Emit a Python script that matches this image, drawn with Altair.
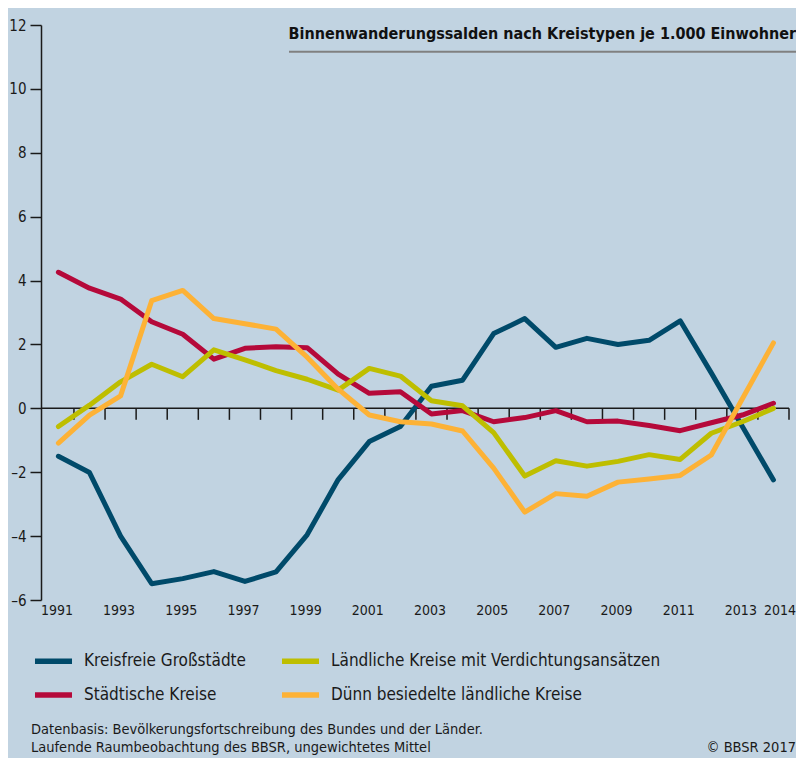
import altair as alt
import pandas as pd

# ---------------- data ----------------
years = list(range(1991, 2015))
series_names = [
    "Kreisfreie Großstädte",
    "Städtische Kreise",
    "Ländliche Kreise mit Verdichtungsansätzen",
    "Dünn besiedelte ländliche Kreise",
]
series_colors = ["#004A6A", "#B5093A", "#BEBE00", "#FDB236"]

kreisfreie = [-1.50, -2.01, -4.00, -5.49, -5.33, -5.11, -5.42, -5.12, -3.96, -2.23,
              -1.04, -0.57, 0.69, 0.88, 2.34, 2.81, 1.91, 2.19, 2.00, 2.13,
              2.74, 1.11, -0.57, -2.24]
staedtische = [4.26, 3.76, 3.42, 2.71, 2.32, 1.54, 1.88, 1.93, 1.90, 1.07,
               0.47, 0.52, -0.18, -0.07, -0.42, -0.29, -0.07, -0.42, -0.40, -0.54,
               -0.70, -0.45, -0.21, 0.16]
laendliche = [-0.57, 0.10, 0.83, 1.38, 0.99, 1.83, 1.52, 1.18, 0.91, 0.57,
              1.25, 1.01, 0.24, 0.08, -0.76, -2.12, -1.64, -1.81, -1.66, -1.45,
              -1.60, -0.78, -0.42, 0.00]
duenn = [-1.09, -0.21, 0.39, 3.37, 3.69, 2.81, 2.65, 2.48, 1.60, 0.60,
         -0.21, -0.42, -0.49, -0.71, -1.87, -3.25, -2.67, -2.75, -2.31, -2.21,
         -2.10, -1.46, 0.30, 2.05]

x_label_years = [1991, 1993, 1995, 1997, 1999, 2001, 2003, 2005, 2007, 2009, 2011, 2013, 2014]
y_tick_values = [-6, -4, -2, 0, 2, 4, 6, 8, 10, 12]

title_text = "Binnenwanderungssalden nach Kreistypen je 1.000 Einwohner"
footer_lines = [
    "Datenbasis: Bevölkerungsfortschreibung des Bundes und der Länder.",
    "Laufende Raumbeobachtung des BBSR, ungewichtetes Mittel",
]
copyright_text = "© BBSR 2017"

# ---------------- tables ----------------
series_values = [kreisfreie, staedtische, laendliche, duenn]
rows = []
for name, vals in zip(series_names, series_values):
    for yr, v in zip(years, vals):
        rows.append({"Jahr": yr, "Wert": v, "Kreistyp": name})
df = pd.DataFrame(rows)

tick_df = pd.DataFrame({"Jahr": [y + 0.5 for y in years], "Wert": 0.0, "Unten": -0.36})
zero_df = pd.DataFrame({"Wert": [0.0]})

# ---------------- styling ----------------
FONT = "DejaVu Sans Condensed, Liberation Sans, sans-serif"
INK = "#1a1a1a"
BG = "#C1D3E1"
W, H = 748, 575

xscale = alt.Scale(domain=[1990.44, 2014.5], nice=False, zero=False)
yscale = alt.Scale(domain=[-6, 12], nice=False, zero=False)
cscale = alt.Scale(domain=series_names, range=series_colors)

x_axis = alt.Axis(
    values=x_label_years, format="d", title=None, grid=False, domain=False,
    ticks=False, tickSize=0, labelFont=FONT, labelFontSize=14, labelColor=INK,
    labelPadding=3, labelOverlap=False, labelFlush=False, labelBound=False,
    labelOffset={"condition": {"test": "datum.value == 2014", "value": 6}, "value": -2},
)
y_axis = alt.Axis(
    values=y_tick_values, title=None, grid=False, domain=True, domainColor=INK,
    domainWidth=1.5, ticks=True, tickSize=11, tickWidth=1.5, tickColor=INK,
    labelFont=FONT, labelFontSize=15, labelColor=INK, labelPadding=4,
    labelFlush=False, labelBound=False,
    labelExpr="replace(datum.label, '\u2212', '\u2013')",
)

X = alt.X("Jahr:Q", scale=xscale, axis=x_axis)
Y = alt.Y("Wert:Q", scale=yscale, axis=y_axis)

legend = alt.Legend(
    title=None, orient="none", legendX=-9, legendY=614.5, columns=2,
    symbolType="stroke", symbolSize=1370, symbolStrokeWidth=5.5,
    labelFont=FONT, labelFontSize=17, labelColor=INK, labelOffset=9,
    labelLimit=500, columnPadding=24, rowPadding=1, padding=0,
)

layers = []
# zero line with year-boundary ticks
layers.append(
    alt.Chart(zero_df).mark_rule(color=INK, strokeWidth=1.5).encode(
        y=Y, x=alt.value(0), x2=alt.value(W)
    )
)
layers.append(
    alt.Chart(tick_df).mark_rule(color=INK, strokeWidth=1.5).encode(
        x=X, y=Y, y2="Unten:Q"
    )
)
for name in series_names:
    layers.append(
        alt.Chart(df).transform_filter(alt.datum.Kreistyp == name)
        .mark_line(strokeWidth=5, strokeCap="round", strokeJoin="round")
        .encode(x=X, y=Y, color=alt.Color("Kreistyp:N", scale=cscale, legend=legend))
    )

# title + underline
layers.append(
    alt.Chart(pd.DataFrame({"t": [title_text]})).mark_text(
        align="right", baseline="middle", font=FONT, fontSize=16,
        fontWeight="bold", color="#111111"
    ).encode(text="t:N", x=alt.value(755), y=alt.value(8.5))
)
layers.append(
    alt.Chart(pd.DataFrame({"t": [title_text]})).mark_rule(
        color="#808080", strokeWidth=2
    ).encode(x=alt.value(248), x2=alt.value(755), y=alt.value(26.7))
)
# footer
footer_df = pd.DataFrame({"t": footer_lines, "row": [0, 1]})
layers.append(
    alt.Chart(footer_df).transform_filter(alt.datum.row == 0).mark_text(
        align="left", baseline="middle", font=FONT, fontSize=14.5, color=INK
    ).encode(text="t:N", x=alt.value(-10), y=alt.value(705))
)
layers.append(
    alt.Chart(footer_df).transform_filter(alt.datum.row == 1).mark_text(
        align="left", baseline="middle", font=FONT, fontSize=14.5, color=INK
    ).encode(text="t:N", x=alt.value(-10), y=alt.value(723))
)
layers.append(
    alt.Chart(pd.DataFrame({"t": [copyright_text]})).mark_text(
        align="right", baseline="middle", font=FONT, fontSize=14.5, color=INK
    ).encode(text="t:N", x=alt.value(755), y=alt.value(723))
)

chart = (
    alt.layer(*layers)
    .properties(
        width=W, height=H,
        autosize=alt.AutoSizeParams(type="none"),
        padding={"left": 33, "top": 17, "right": 7, "bottom": 158},
        background=BG,
    )
    .configure_view(stroke=None)
)

chart.save("out.html", embed_options={"renderer": "svg", "actions": False})
